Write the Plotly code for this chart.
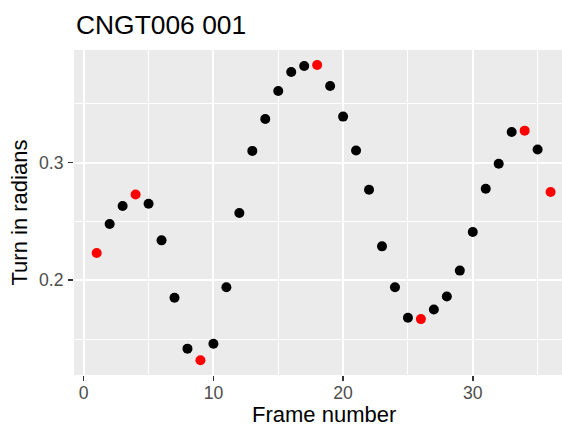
import plotly.graph_objects as go

frames = list(range(1, 37))
turn = [0.2232, 0.2478, 0.2630, 0.2729, 0.2650, 0.2339, 0.1851, 0.1419, 0.1320,
        0.1461, 0.1941, 0.2571, 0.3099, 0.3370, 0.3608, 0.3769, 0.3820, 0.3829,
        0.3650, 0.3390, 0.3102, 0.2769, 0.2288, 0.1941, 0.1681, 0.1670, 0.1752,
        0.1862, 0.2082, 0.2410, 0.2777, 0.2989, 0.3260, 0.3271, 0.3110, 0.2749]
highlight = [True, False, False, True, False, False, False, False, True,
             False, False, False, False, False, False, False, False, True,
             False, False, False, False, False, False, False, True, False,
             False, False, False, False, False, False, True, False, True]

colors = ["#FF0000" if h else "#000000" for h in highlight]

FONT = "Liberation Sans, Arial, sans-serif"

fig = go.Figure()
fig.add_trace(go.Scatter(
    x=frames, y=turn, mode="markers",
    marker=dict(color=colors, size=10, line=dict(width=0)),
    showlegend=False, hoverinfo="skip", cliponaxis=False,
))

fig.update_layout(
    width=562, height=426,
    margin=dict(l=74, r=0, t=50, b=51, autoexpand=False),
    paper_bgcolor="white",
    plot_bgcolor="#EBEBEB",
    font=dict(family=FONT),
    showlegend=False,
)

fig.update_xaxes(
    range=[-0.75, 36.88],
    tickvals=[0, 10, 20, 30],
    ticktext=["0", "10", "20", "30"],
    showgrid=True, gridcolor="white", gridwidth=2,
    minor=dict(tickvals=[5, 15, 25, 35], showgrid=True, gridcolor="white", gridwidth=1, ticks=""),
    ticks="outside", ticklen=5, tickwidth=1.5, tickcolor="#333333",
    tickfont=dict(family=FONT, size=17.6, color="#4D4D4D"),
    ticklabelstandoff=-3,
    zeroline=False, showline=False, automargin=False,
)
fig.update_yaxes(
    range=[0.1195, 0.3956],
    tickvals=[0.2, 0.3],
    ticktext=["0.2", "0.3"],
    showgrid=True, gridcolor="white", gridwidth=2,
    minor=dict(tickvals=[0.15, 0.25, 0.35], showgrid=True, gridcolor="white", gridwidth=1, ticks=""),
    ticks="outside", ticklen=5, tickwidth=1.5, tickcolor="#333333",
    tickfont=dict(family=FONT, size=17.6, color="#4D4D4D"),
    ticklabelstandoff=1,
    zeroline=False, showline=False, automargin=False,
)

fig.add_annotation(
    text="CNGT006 001", xref="paper", yref="paper", x=0, y=1,
    xanchor="left", yanchor="middle", yshift=25, showarrow=False,
    font=dict(family=FONT, size=26.4, color="black"),
)
fig.add_annotation(
    text="Frame number", xref="x", yref="paper", x=18.5, y=0,
    xanchor="center", yanchor="middle", yshift=-39, showarrow=False,
    font=dict(family=FONT, size=22, color="black"),
)
fig.add_annotation(
    text="Turn in radians", xref="paper", yref="paper", x=0, y=0.5,
    xanchor="center", yanchor="middle", xshift=-55, textangle=-90, showarrow=False,
    font=dict(family=FONT, size=22, color="black"),
)

fig.write_html(
    "out.html",
    config={"displayModeBar": False, "staticPlot": True},
    post_script="document.body.style.margin='0';document.documentElement.style.overflow='hidden';document.body.style.overflow='hidden';",
)
